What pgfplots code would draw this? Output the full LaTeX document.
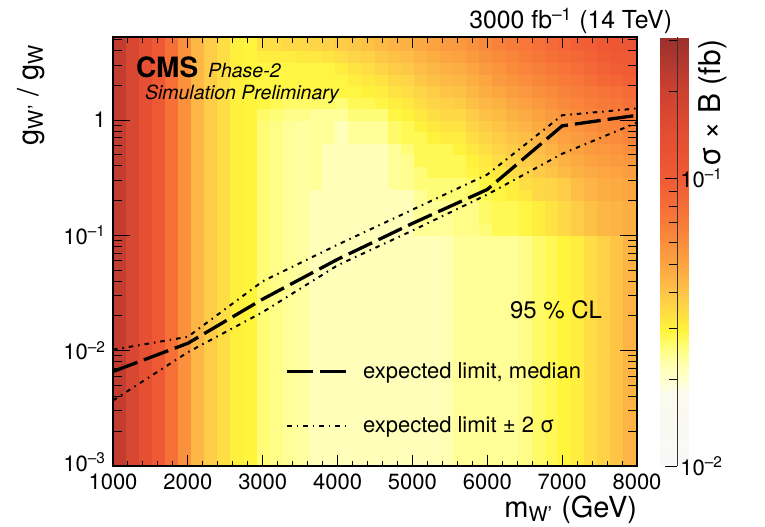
\documentclass[border=0pt]{standalone}
\usepackage{pgfplots}
\usepackage{pgfplotstable}
\pgfplotsset{compat=1.18}
\usepackage{fontspec}
\setmainfont{TeX Gyre Heros}

% colour scale, positions are 1000*(log10(sigma x B) + 2)
\pgfplotsset{
  colormap={sigmaB}{
    rgb255(0pt)=(248,248,248)
    rgb255(250pt)=(250,250,238)
    rgb255(300pt)=(255,255,205)
    rgb255(360pt)=(255,255,170)
    rgb255(420pt)=(255,252,115)
    rgb255(470pt)=(255,245,60)
    rgb255(550pt)=(254,215,70)
    rgb255(620pt)=(253,190,70)
    rgb255(700pt)=(252,165,65)
    rgb255(800pt)=(249,135,58)
    rgb255(900pt)=(246,110,55)
    rgb255(1000pt)=(240,90,52)
    rgb255(1150pt)=(228,78,50)
    rgb255(1300pt)=(205,65,48)
    rgb255(1490pt)=(155,48,45)
  }
}

% sigma x B (fb); corner grid, each corner carries the value of the cell to its upper right
% m_W' < 2925 GeV: no dependence on the coupling
\pgfplotstableread[row sep=\\]{
x y v\\
1000 0.001 0.22\\ 1175 0.001 0.17\\ 1350 0.001 0.135\\ 1525 0.001 0.105\\ 1700 0.001 0.078\\ 1875 0.001 0.058\\ 2050 0.001 0.044\\ 2225 0.001 0.038\\ 2400 0.001 0.034\\ 2575 0.001 0.0305\\ 2750 0.001 0.0295\\ 2925 0.001 0.0295\\
1000 5.25 0.22\\ 1175 5.25 0.17\\ 1350 5.25 0.135\\ 1525 5.25 0.105\\ 1700 5.25 0.078\\ 1875 5.25 0.058\\ 2050 5.25 0.044\\ 2225 5.25 0.038\\ 2400 5.25 0.034\\ 2575 5.25 0.0305\\ 2750 5.25 0.0295\\ 2925 5.25 0.0295\\
}\lowmass

% m_W' > 2925 GeV
\pgfplotstableread[row sep=\\]{
x y v\\
2925 0.001 0.026\\ 3100 0.001 0.025\\ 3275 0.001 0.024\\ 3450 0.001 0.0235\\ 3625 0.001 0.0215\\ 3800 0.001 0.0215\\ 3975 0.001 0.0215\\ 4150 0.001 0.0215\\ 4325 0.001 0.0215\\ 4500 0.001 0.0215\\ 4675 0.001 0.0215\\ 4850 0.001 0.0215\\ 5025 0.001 0.0215\\ 5200 0.001 0.0215\\ 5375 0.001 0.022\\ 5550 0.001 0.024\\ 5725 0.001 0.024\\ 5900 0.001 0.024\\ 6075 0.001 0.024\\ 6250 0.001 0.024\\ 6425 0.001 0.025\\ 6600 0.001 0.027\\ 6775 0.001 0.028\\ 6950 0.001 0.0295\\ 7125 0.001 0.031\\ 7300 0.001 0.034\\ 7475 0.001 0.037\\ 7650 0.001 0.040\\ 7825 0.001 0.045\\ 8000 0.001 0.045\\
2925 0.0501 0.026\\ 3100 0.0501 0.025\\ 3275 0.0501 0.024\\ 3450 0.0501 0.0235\\ 3625 0.0501 0.0215\\ 3800 0.0501 0.0215\\ 3975 0.0501 0.0215\\ 4150 0.0501 0.0215\\ 4325 0.0501 0.0215\\ 4500 0.0501 0.0215\\ 4675 0.0501 0.0215\\ 4850 0.0501 0.0215\\ 5025 0.0501 0.0215\\ 5200 0.0501 0.0215\\ 5375 0.0501 0.022\\ 5550 0.0501 0.024\\ 5725 0.0501 0.024\\ 5900 0.0501 0.024\\ 6075 0.0501 0.024\\ 6250 0.0501 0.024\\ 6425 0.0501 0.025\\ 6600 0.0501 0.027\\ 6775 0.0501 0.028\\ 6950 0.0501 0.0295\\ 7125 0.0501 0.031\\ 7300 0.0501 0.034\\ 7475 0.0501 0.037\\ 7650 0.0501 0.040\\ 7825 0.0501 0.045\\ 8000 0.0501 0.045\\
2925 0.0631 0.026\\ 3100 0.0631 0.025\\ 3275 0.0631 0.024\\ 3450 0.0631 0.0235\\ 3625 0.0631 0.0215\\ 3800 0.0631 0.0215\\ 3975 0.0631 0.0215\\ 4150 0.0631 0.0215\\ 4325 0.0631 0.0215\\ 4500 0.0631 0.0215\\ 4675 0.0631 0.0215\\ 4850 0.0631 0.0215\\ 5025 0.0631 0.0215\\ 5200 0.0631 0.0215\\ 5375 0.0631 0.022\\ 5550 0.0631 0.024\\ 5725 0.0631 0.024\\ 5900 0.0631 0.024\\ 6075 0.0631 0.024\\ 6250 0.0631 0.024\\ 6425 0.0631 0.025\\ 6600 0.0631 0.027\\ 6775 0.0631 0.028\\ 6950 0.0631 0.0295\\ 7125 0.0631 0.031\\ 7300 0.0631 0.034\\ 7475 0.0631 0.037\\ 7650 0.0631 0.040\\ 7825 0.0631 0.045\\ 8000 0.0631 0.045\\
2925 0.0794 0.026\\ 3100 0.0794 0.025\\ 3275 0.0794 0.024\\ 3450 0.0794 0.0235\\ 3625 0.0794 0.0215\\ 3800 0.0794 0.0215\\ 3975 0.0794 0.0215\\ 4150 0.0794 0.0215\\ 4325 0.0794 0.0215\\ 4500 0.0794 0.0215\\ 4675 0.0794 0.0215\\ 4850 0.0794 0.0215\\ 5025 0.0794 0.0215\\ 5200 0.0794 0.0215\\ 5375 0.0794 0.022\\ 5550 0.0794 0.024\\ 5725 0.0794 0.024\\ 5900 0.0794 0.024\\ 6075 0.0794 0.024\\ 6250 0.0794 0.024\\ 6425 0.0794 0.025\\ 6600 0.0794 0.027\\ 6775 0.0794 0.028\\ 6950 0.0794 0.0295\\ 7125 0.0794 0.031\\ 7300 0.0794 0.034\\ 7475 0.0794 0.037\\ 7650 0.0794 0.040\\ 7825 0.0794 0.045\\ 8000 0.0794 0.045\\
2925 0.1 0.026\\ 3100 0.1 0.025\\ 3275 0.1 0.024\\ 3450 0.1 0.0235\\ 3625 0.1 0.0215\\ 3800 0.1 0.0215\\ 3975 0.1 0.0215\\ 4150 0.1 0.0215\\ 4325 0.1 0.0215\\ 4500 0.1 0.0215\\ 4675 0.1 0.0215\\ 4850 0.1 0.0215\\ 5025 0.1 0.024\\ 5200 0.1 0.024\\ 5375 0.1 0.024\\ 5550 0.1 0.025\\ 5725 0.1 0.025\\ 5900 0.1 0.026\\ 6075 0.1 0.028\\ 6250 0.1 0.028\\ 6425 0.1 0.029\\ 6600 0.1 0.031\\ 6775 0.1 0.033\\ 6950 0.1 0.035\\ 7125 0.1 0.038\\ 7300 0.1 0.041\\ 7475 0.1 0.044\\ 7650 0.1 0.045\\ 7825 0.1 0.047\\ 8000 0.1 0.047\\
2925 0.1259 0.026\\ 3100 0.1259 0.025\\ 3275 0.1259 0.024\\ 3450 0.1259 0.0235\\ 3625 0.1259 0.0215\\ 3800 0.1259 0.0215\\ 3975 0.1259 0.0215\\ 4150 0.1259 0.0215\\ 4325 0.1259 0.0215\\ 4500 0.1259 0.0215\\ 4675 0.1259 0.0215\\ 4850 0.1259 0.0215\\ 5025 0.1259 0.024\\ 5200 0.1259 0.024\\ 5375 0.1259 0.024\\ 5550 0.1259 0.025\\ 5725 0.1259 0.025\\ 5900 0.1259 0.027\\ 6075 0.1259 0.028\\ 6250 0.1259 0.028\\ 6425 0.1259 0.029\\ 6600 0.1259 0.031\\ 6775 0.1259 0.033\\ 6950 0.1259 0.035\\ 7125 0.1259 0.038\\ 7300 0.1259 0.041\\ 7475 0.1259 0.044\\ 7650 0.1259 0.045\\ 7825 0.1259 0.047\\ 8000 0.1259 0.047\\
2925 0.1585 0.026\\ 3100 0.1585 0.025\\ 3275 0.1585 0.024\\ 3450 0.1585 0.0235\\ 3625 0.1585 0.0215\\ 3800 0.1585 0.0215\\ 3975 0.1585 0.0215\\ 4150 0.1585 0.0215\\ 4325 0.1585 0.0215\\ 4500 0.1585 0.0215\\ 4675 0.1585 0.0215\\ 4850 0.1585 0.0215\\ 5025 0.1585 0.024\\ 5200 0.1585 0.024\\ 5375 0.1585 0.024\\ 5550 0.1585 0.025\\ 5725 0.1585 0.025\\ 5900 0.1585 0.027\\ 6075 0.1585 0.028\\ 6250 0.1585 0.028\\ 6425 0.1585 0.029\\ 6600 0.1585 0.031\\ 6775 0.1585 0.033\\ 6950 0.1585 0.035\\ 7125 0.1585 0.038\\ 7300 0.1585 0.041\\ 7475 0.1585 0.044\\ 7650 0.1585 0.045\\ 7825 0.1585 0.047\\ 8000 0.1585 0.047\\
2925 0.1995 0.026\\ 3100 0.1995 0.025\\ 3275 0.1995 0.024\\ 3450 0.1995 0.0235\\ 3625 0.1995 0.0215\\ 3800 0.1995 0.0215\\ 3975 0.1995 0.0215\\ 4150 0.1995 0.0215\\ 4325 0.1995 0.0215\\ 4500 0.1995 0.0215\\ 4675 0.1995 0.0215\\ 4850 0.1995 0.0215\\ 5025 0.1995 0.024\\ 5200 0.1995 0.026\\ 5375 0.1995 0.026\\ 5550 0.1995 0.026\\ 5725 0.1995 0.027\\ 5900 0.1995 0.028\\ 6075 0.1995 0.029\\ 6250 0.1995 0.031\\ 6425 0.1995 0.032\\ 6600 0.1995 0.035\\ 6775 0.1995 0.036\\ 6950 0.1995 0.038\\ 7125 0.1995 0.042\\ 7300 0.1995 0.045\\ 7475 0.1995 0.047\\ 7650 0.1995 0.048\\ 7825 0.1995 0.050\\ 8000 0.1995 0.050\\
2925 0.2512 0.026\\ 3100 0.2512 0.025\\ 3275 0.2512 0.024\\ 3450 0.2512 0.0235\\ 3625 0.2512 0.024\\ 3800 0.2512 0.0215\\ 3975 0.2512 0.0215\\ 4150 0.2512 0.0215\\ 4325 0.2512 0.0215\\ 4500 0.2512 0.0215\\ 4675 0.2512 0.024\\ 4850 0.2512 0.0245\\ 5025 0.2512 0.026\\ 5200 0.2512 0.026\\ 5375 0.2512 0.026\\ 5550 0.2512 0.026\\ 5725 0.2512 0.027\\ 5900 0.2512 0.029\\ 6075 0.2512 0.030\\ 6250 0.2512 0.031\\ 6425 0.2512 0.034\\ 6600 0.2512 0.035\\ 6775 0.2512 0.036\\ 6950 0.2512 0.038\\ 7125 0.2512 0.042\\ 7300 0.2512 0.045\\ 7475 0.2512 0.047\\ 7650 0.2512 0.048\\ 7825 0.2512 0.050\\ 8000 0.2512 0.050\\
2925 0.3162 0.026\\ 3100 0.3162 0.025\\ 3275 0.3162 0.024\\ 3450 0.3162 0.0235\\ 3625 0.3162 0.024\\ 3800 0.3162 0.0215\\ 3975 0.3162 0.0215\\ 4150 0.3162 0.0215\\ 4325 0.3162 0.0215\\ 4500 0.3162 0.0215\\ 4675 0.3162 0.024\\ 4850 0.3162 0.0245\\ 5025 0.3162 0.026\\ 5200 0.3162 0.028\\ 5375 0.3162 0.028\\ 5550 0.3162 0.028\\ 5725 0.3162 0.029\\ 5900 0.3162 0.031\\ 6075 0.3162 0.032\\ 6250 0.3162 0.034\\ 6425 0.3162 0.036\\ 6600 0.3162 0.038\\ 6775 0.3162 0.040\\ 6950 0.3162 0.043\\ 7125 0.3162 0.046\\ 7300 0.3162 0.048\\ 7475 0.3162 0.050\\ 7650 0.3162 0.051\\ 7825 0.3162 0.053\\ 8000 0.3162 0.053\\
2925 0.3981 0.026\\ 3100 0.3981 0.025\\ 3275 0.3981 0.024\\ 3450 0.3981 0.0235\\ 3625 0.3981 0.024\\ 3800 0.3981 0.0215\\ 3975 0.3981 0.0215\\ 4150 0.3981 0.0215\\ 4325 0.3981 0.0215\\ 4500 0.3981 0.0215\\ 4675 0.3981 0.024\\ 4850 0.3981 0.0245\\ 5025 0.3981 0.028\\ 5200 0.3981 0.028\\ 5375 0.3981 0.028\\ 5550 0.3981 0.028\\ 5725 0.3981 0.030\\ 5900 0.3981 0.032\\ 6075 0.3981 0.034\\ 6250 0.3981 0.036\\ 6425 0.3981 0.038\\ 6600 0.3981 0.040\\ 6775 0.3981 0.042\\ 6950 0.3981 0.046\\ 7125 0.3981 0.048\\ 7300 0.3981 0.051\\ 7475 0.3981 0.053\\ 7650 0.3981 0.054\\ 7825 0.3981 0.056\\ 8000 0.3981 0.056\\
2925 0.5012 0.026\\ 3100 0.5012 0.025\\ 3275 0.5012 0.024\\ 3450 0.5012 0.0235\\ 3625 0.5012 0.024\\ 3800 0.5012 0.0215\\ 3975 0.5012 0.0215\\ 4150 0.5012 0.0215\\ 4325 0.5012 0.0215\\ 4500 0.5012 0.0215\\ 4675 0.5012 0.024\\ 4850 0.5012 0.026\\ 5025 0.5012 0.028\\ 5200 0.5012 0.028\\ 5375 0.5012 0.028\\ 5550 0.5012 0.030\\ 5725 0.5012 0.032\\ 5900 0.5012 0.034\\ 6075 0.5012 0.036\\ 6250 0.5012 0.038\\ 6425 0.5012 0.040\\ 6600 0.5012 0.042\\ 6775 0.5012 0.045\\ 6950 0.5012 0.049\\ 7125 0.5012 0.051\\ 7300 0.5012 0.054\\ 7475 0.5012 0.056\\ 7650 0.5012 0.057\\ 7825 0.5012 0.060\\ 8000 0.5012 0.060\\
2925 0.631 0.026\\ 3100 0.631 0.025\\ 3275 0.631 0.024\\ 3450 0.631 0.0235\\ 3625 0.631 0.024\\ 3800 0.631 0.024\\ 3975 0.631 0.0215\\ 4150 0.631 0.024\\ 4325 0.631 0.024\\ 4500 0.631 0.024\\ 4675 0.631 0.027\\ 4850 0.631 0.028\\ 5025 0.631 0.028\\ 5200 0.631 0.030\\ 5375 0.631 0.031\\ 5550 0.631 0.031\\ 5725 0.631 0.034\\ 5900 0.631 0.036\\ 6075 0.631 0.038\\ 6250 0.631 0.040\\ 6425 0.631 0.042\\ 6600 0.631 0.045\\ 6775 0.631 0.048\\ 6950 0.631 0.052\\ 7125 0.631 0.054\\ 7300 0.631 0.057\\ 7475 0.631 0.059\\ 7650 0.631 0.061\\ 7825 0.631 0.064\\ 8000 0.631 0.064\\
2925 0.7943 0.026\\ 3100 0.7943 0.025\\ 3275 0.7943 0.024\\ 3450 0.7943 0.0235\\ 3625 0.7943 0.024\\ 3800 0.7943 0.024\\ 3975 0.7943 0.0215\\ 4150 0.7943 0.024\\ 4325 0.7943 0.024\\ 4500 0.7943 0.024\\ 4675 0.7943 0.027\\ 4850 0.7943 0.028\\ 5025 0.7943 0.030\\ 5200 0.7943 0.032\\ 5375 0.7943 0.033\\ 5550 0.7943 0.033\\ 5725 0.7943 0.036\\ 5900 0.7943 0.038\\ 6075 0.7943 0.040\\ 6250 0.7943 0.043\\ 6425 0.7943 0.045\\ 6600 0.7943 0.048\\ 6775 0.7943 0.051\\ 6950 0.7943 0.055\\ 7125 0.7943 0.057\\ 7300 0.7943 0.060\\ 7475 0.7943 0.063\\ 7650 0.7943 0.065\\ 7825 0.7943 0.068\\ 8000 0.7943 0.068\\
2925 1 0.027\\ 3100 1 0.026\\ 3275 1 0.025\\ 3450 1 0.025\\ 3625 1 0.024\\ 3800 1 0.024\\ 3975 1 0.024\\ 4150 1 0.026\\ 4325 1 0.026\\ 4500 1 0.026\\ 4675 1 0.029\\ 4850 1 0.030\\ 5025 1 0.032\\ 5200 1 0.034\\ 5375 1 0.035\\ 5550 1 0.035\\ 5725 1 0.038\\ 5900 1 0.041\\ 6075 1 0.043\\ 6250 1 0.046\\ 6425 1 0.048\\ 6600 1 0.051\\ 6775 1 0.054\\ 6950 1 0.058\\ 7125 1 0.061\\ 7300 1 0.064\\ 7475 1 0.067\\ 7650 1 0.069\\ 7825 1 0.072\\ 8000 1 0.072\\
2925 1.259 0.029\\ 3100 1.259 0.028\\ 3275 1.259 0.027\\ 3450 1.259 0.027\\ 3625 1.259 0.027\\ 3800 1.259 0.027\\ 3975 1.259 0.026\\ 4150 1.259 0.028\\ 4325 1.259 0.028\\ 4500 1.259 0.029\\ 4675 1.259 0.031\\ 4850 1.259 0.032\\ 5025 1.259 0.034\\ 5200 1.259 0.036\\ 5375 1.259 0.037\\ 5550 1.259 0.038\\ 5725 1.259 0.041\\ 5900 1.259 0.044\\ 6075 1.259 0.046\\ 6250 1.259 0.049\\ 6425 1.259 0.052\\ 6600 1.259 0.055\\ 6775 1.259 0.058\\ 6950 1.259 0.062\\ 7125 1.259 0.065\\ 7300 1.259 0.068\\ 7475 1.259 0.071\\ 7650 1.259 0.073\\ 7825 1.259 0.077\\ 8000 1.259 0.077\\
2925 1.585 0.029\\ 3100 1.585 0.029\\ 3275 1.585 0.029\\ 3450 1.585 0.029\\ 3625 1.585 0.029\\ 3800 1.585 0.029\\ 3975 1.585 0.029\\ 4150 1.585 0.029\\ 4325 1.585 0.030\\ 4500 1.585 0.031\\ 4675 1.585 0.033\\ 4850 1.585 0.034\\ 5025 1.585 0.036\\ 5200 1.585 0.038\\ 5375 1.585 0.040\\ 5550 1.585 0.041\\ 5725 1.585 0.044\\ 5900 1.585 0.047\\ 6075 1.585 0.050\\ 6250 1.585 0.053\\ 6425 1.585 0.056\\ 6600 1.585 0.059\\ 6775 1.585 0.062\\ 6950 1.585 0.066\\ 7125 1.585 0.069\\ 7300 1.585 0.072\\ 7475 1.585 0.075\\ 7650 1.585 0.078\\ 7825 1.585 0.082\\ 8000 1.585 0.082\\
2925 1.995 0.029\\ 3100 1.995 0.029\\ 3275 1.995 0.029\\ 3450 1.995 0.029\\ 3625 1.995 0.029\\ 3800 1.995 0.029\\ 3975 1.995 0.029\\ 4150 1.995 0.031\\ 4325 1.995 0.032\\ 4500 1.995 0.033\\ 4675 1.995 0.035\\ 4850 1.995 0.036\\ 5025 1.995 0.039\\ 5200 1.995 0.041\\ 5375 1.995 0.043\\ 5550 1.995 0.044\\ 5725 1.995 0.047\\ 5900 1.995 0.050\\ 6075 1.995 0.054\\ 6250 1.995 0.057\\ 6425 1.995 0.060\\ 6600 1.995 0.063\\ 6775 1.995 0.067\\ 6950 1.995 0.071\\ 7125 1.995 0.074\\ 7300 1.995 0.079\\ 7475 1.995 0.085\\ 7650 1.995 0.089\\ 7825 1.995 0.094\\ 8000 1.995 0.094\\
2925 2.512 0.029\\ 3100 2.512 0.029\\ 3275 2.512 0.029\\ 3450 2.512 0.029\\ 3625 2.512 0.029\\ 3800 2.512 0.029\\ 3975 2.512 0.031\\ 4150 2.512 0.033\\ 4325 2.512 0.034\\ 4500 2.512 0.036\\ 4675 2.512 0.038\\ 4850 2.512 0.039\\ 5025 2.512 0.042\\ 5200 2.512 0.044\\ 5375 2.512 0.046\\ 5550 2.512 0.047\\ 5725 2.512 0.050\\ 5900 2.512 0.054\\ 6075 2.512 0.057\\ 6250 2.512 0.061\\ 6425 2.512 0.064\\ 6600 2.512 0.068\\ 6775 2.512 0.072\\ 6950 2.512 0.076\\ 7125 2.512 0.080\\ 7300 2.512 0.085\\ 7475 2.512 0.091\\ 7650 2.512 0.095\\ 7825 2.512 0.100\\ 8000 2.512 0.100\\
2925 3.162 0.031\\ 3100 3.162 0.031\\ 3275 3.162 0.031\\ 3450 3.162 0.032\\ 3625 3.162 0.032\\ 3800 3.162 0.033\\ 3975 3.162 0.034\\ 4150 3.162 0.036\\ 4325 3.162 0.037\\ 4500 3.162 0.039\\ 4675 3.162 0.041\\ 4850 3.162 0.042\\ 5025 3.162 0.045\\ 5200 3.162 0.047\\ 5375 3.162 0.050\\ 5550 3.162 0.051\\ 5725 3.162 0.054\\ 5900 3.162 0.058\\ 6075 3.162 0.061\\ 6250 3.162 0.065\\ 6425 3.162 0.069\\ 6600 3.162 0.073\\ 6775 3.162 0.077\\ 6950 3.162 0.081\\ 7125 3.162 0.086\\ 7300 3.162 0.091\\ 7475 3.162 0.098\\ 7650 3.162 0.102\\ 7825 3.162 0.107\\ 8000 3.162 0.107\\
2925 3.981 0.034\\ 3100 3.981 0.034\\ 3275 3.981 0.035\\ 3450 3.981 0.035\\ 3625 3.981 0.036\\ 3800 3.981 0.037\\ 3975 3.981 0.038\\ 4150 3.981 0.039\\ 4325 3.981 0.041\\ 4500 3.981 0.043\\ 4675 3.981 0.045\\ 4850 3.981 0.046\\ 5025 3.981 0.049\\ 5200 3.981 0.051\\ 5375 3.981 0.054\\ 5550 3.981 0.055\\ 5725 3.981 0.058\\ 5900 3.981 0.062\\ 6075 3.981 0.066\\ 6250 3.981 0.070\\ 6425 3.981 0.074\\ 6600 3.981 0.078\\ 6775 3.981 0.082\\ 6950 3.981 0.087\\ 7125 3.981 0.092\\ 7300 3.981 0.097\\ 7475 3.981 0.105\\ 7650 3.981 0.109\\ 7825 3.981 0.115\\ 8000 3.981 0.115\\
2925 5.25 0.034\\ 3100 5.25 0.034\\ 3275 5.25 0.035\\ 3450 5.25 0.035\\ 3625 5.25 0.036\\ 3800 5.25 0.037\\ 3975 5.25 0.038\\ 4150 5.25 0.039\\ 4325 5.25 0.041\\ 4500 5.25 0.043\\ 4675 5.25 0.045\\ 4850 5.25 0.046\\ 5025 5.25 0.049\\ 5200 5.25 0.051\\ 5375 5.25 0.054\\ 5550 5.25 0.055\\ 5725 5.25 0.058\\ 5900 5.25 0.062\\ 6075 5.25 0.066\\ 6250 5.25 0.070\\ 6425 5.25 0.074\\ 6600 5.25 0.078\\ 6775 5.25 0.082\\ 6950 5.25 0.087\\ 7125 5.25 0.092\\ 7300 5.25 0.097\\ 7475 5.25 0.105\\ 7650 5.25 0.109\\ 7825 5.25 0.115\\ 8000 5.25 0.115\\
}\highmass

\newcommand{\tickfont}{\fontsize{11}{13}\selectfont}
\tikzset{label text/.style={inner sep=0pt, outer sep=0pt}}

\begin{document}
\begin{tikzpicture}
\useasboundingbox (0,0) rectangle (382.5pt,263pt);

% sigma x B map
\begin{axis}[
  at={(56.5pt,30pt)}, anchor=south west,
  scale only axis, width=262pt, height=214.5pt,
  view={0}{90},
  xmin=1000, xmax=8000, ymin=1e-3, ymax=5.25, ymode=log,
  xtick=\empty, ytick=\empty, ztick=\empty,
  axis line style={draw=none},
  colormap name=sigmaB,
  point meta min=-2, point meta max=-0.51,
]
\addplot3[surf, shader=flat corner, z buffer=none, mesh/rows=2, mesh/cols=12,
  point meta={ln(\thisrow{v})/ln(10)}]
  table[x=x, y=y, z=v] {\lowmass};
\addplot3[surf, shader=flat corner, z buffer=none, mesh/rows=22, mesh/cols=30,
  point meta={ln(\thisrow{v})/ln(10)}]
  table[x=x, y=y, z=v] {\highmass};
\end{axis}

% colour scale of sigma x B (shading only)
\pgfplotscolorbardrawstandalone[
  colormap name=sigmaB,
  point meta min=-2, point meta max=-0.51,
  colorbar style={
    at={(321.5pt,30pt)}, anchor=south west,
    scale only axis, width=17pt, height=214.5pt,
    axis line style={draw=none},
    ytick=\empty, yticklabels={},
  }]

% ticks and labels of the colour scale, log10(sigma x B)
\begin{axis}[
  at={(321.5pt,30pt)}, anchor=south west,
  scale only axis, width=17pt, height=214.5pt,
  xmin=0, xmax=1, ymin=-2, ymax=-0.51,
  xtick=\empty,
  ytick={-2,-1},
  yticklabels={10\textsuperscript{–2},10\textsuperscript{–1}},
  minor ytick={-1.699,-1.523,-1.398,-1.301,-1.222,-1.155,-1.097,-1.046,-0.699,-0.523},
  ytick pos=right, yticklabel pos=right,
  tick align=inside,
  major tick length=6pt, minor tick length=4pt,
  axis line style={draw=none},
  tick style={draw=black, line width=0.5pt},
  yticklabel style={font=\tickfont, inner sep=1.5pt},
]
\end{axis}
\draw[black!80, line width=0.5pt] (338.5pt,30pt) -- (338.5pt,244.5pt);

% coupling axis
\begin{axis}[
  at={(56.5pt,30pt)}, anchor=south west,
  scale only axis, width=262pt, height=214.5pt,
  xmin=1000, xmax=8000, ymin=1e-3, ymax=5.25, ymode=log,
  xtick=\empty,
  ytick={1e-3,1e-2,1e-1,1},
  yticklabels={\raisebox{3.5pt}{10\textsuperscript{–3}},10\textsuperscript{–2},10\textsuperscript{–1},1},
  minor ytick={2e-3,3e-3,4e-3,5e-3,6e-3,7e-3,8e-3,9e-3,2e-2,3e-2,4e-2,5e-2,6e-2,7e-2,8e-2,9e-2,0.2,0.3,0.4,0.5,0.6,0.7,0.8,0.9,2,3,4,5},
  tick align=inside,
  major tick length=8.5pt, minor tick length=4.5pt,
  tick style={black, line width=0.5pt},
  axis line style={black, line width=0.6pt},
  yticklabel style={font=\tickfont},
]
\end{axis}

% mass axis, expected limits
\begin{axis}[
  at={(56.5pt,30pt)}, anchor=south west,
  scale only axis, width=262pt, height=214.5pt,
  xmin=1000, xmax=8000, ymin=1e-3, ymax=5.25, ymode=log,
  ytick=\empty,
  xtick={1000,2000,3000,4000,5000,6000,7000,8000},
  xticklabels={1000,2000,3000,4000,5000,6000,7000,8000},
  minor x tick num=4,
  tick align=inside,
  major tick length=5.5pt, minor tick length=2.75pt,
  tick style={black, line width=0.5pt},
  axis line style={black, line width=0.6pt},
  xticklabel style={font=\tickfont, yshift=-0.5pt},
  legend cell align=left,
  legend image code/.code={\draw[#1] (0pt,0pt) -- (30pt,0pt);},
  legend style={draw=none, fill=none, at={(rel axis cs:0.329,0.157)}, anchor=west,
    font=\tickfont, row sep=17.5pt, column sep=7pt, inner sep=0pt,
    nodes={inner sep=0pt}},
]
\addplot[black, line width=1.65pt, dash pattern=on 13pt off 3.5pt]
  coordinates {(1000,0.0066) (2000,0.0116) (3000,0.028) (4000,0.062) (5000,0.127) (6000,0.25) (7000,0.89) (8000,1.10)};
\addlegendentry{expected limit, median}
\addplot[black, line width=1pt, dash pattern=on 2.25pt off 2.5pt on 0.75pt off 2.5pt]
  coordinates {(1000,0.0102) (2000,0.0132) (3000,0.040) (4000,0.083) (5000,0.167) (6000,0.337) (7000,1.10) (8000,1.26)};
\addlegendentry{expected limit ± 2 σ}
\addplot[black, line width=1pt, dash pattern=on 2.25pt off 2.5pt on 0.75pt off 2.5pt, forget plot]
  coordinates {(1000,0.0037) (2000,0.0097) (3000,0.0216) (4000,0.055) (5000,0.11) (6000,0.226) (7000,0.51) (8000,0.95)};
\end{axis}

% titles and labels
\node[label text, anchor=base east, font=\fontsize{12.4}{15}\selectfont] at (336pt,248.5pt) {3000 fb\textsuperscript{–1} (14 TeV)};
\node[label text, anchor=base west, font=\fontsize{14}{16}\selectfont\bfseries] at (68pt,224pt) {CMS};
\node[label text, anchor=base west, font=\fontsize{9.75}{12}\selectfont\itshape] at (104pt,224pt) {Phase-2};
\node[label text, anchor=base west, font=\fontsize{9.75}{12}\selectfont\itshape] at (72.5pt,213pt) {Simulation Preliminary};
\node[label text, anchor=base west, font=\fontsize{12}{14}\selectfont] at (255pt,104pt) {95 \% CL};
\node[label text, anchor=base east, font=\fontsize{14.5}{17}\selectfont] at (318.5pt,4.5pt) {m\textsubscript{W'} (GeV)};
\node[label text, rotate=90, anchor=base east, font=\fontsize{14.5}{17}\selectfont] at (19pt,241pt) {g\textsubscript{W'} / g\textsubscript{W}};
\node[label text, rotate=90, anchor=base east, font=\fontsize{15}{18}\selectfont] at (360pt,243pt) {σ × B (fb)};
\end{tikzpicture}
\end{document}
